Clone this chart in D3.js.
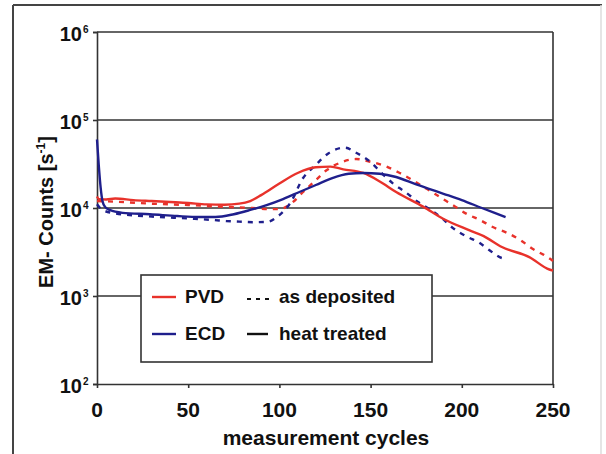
<!DOCTYPE html>
<html><head><meta charset="utf-8">
<script src="https://cdn.jsdelivr.net/npm/d3@7"></script>
<style>
body{margin:0;background:#fff;}
svg{display:block;font-family:"Liberation Sans",Arial,sans-serif;font-weight:bold;}
</style></head>
<body>
<svg id="c" width="606" height="454"></svg>
<script>
// ---- data ----
const xTicks = [0, 50, 100, 150, 200, 250];
const yTickExps = [2, 3, 4, 5, 6];

const pvdHeat = [[0,13500],[1,12600],[5,12500],[10,12800],[20,12300],[30,12000],[40,11700],[50,11400],[60,11000],[70,10900],[78,11200],[84,12000],[90,14000],[100,19000],[110,25000],[120,29000],[128,29500],[135,27500],[146,25000],[155,20000],[164,15200],[179,10300],[190,7500],[204,5600],[212,4800],[222,3600],[237,2770],[248,2000],[250,1950]];
const pvdDep = [[0,12000],[10,11800],[30,11200],[50,10800],[70,10300],[85,10000],[95,9700],[100,9700],[107,11500],[113,15200],[120,20800],[126,27000],[133,32500],[142,36000],[150,33500],[158,30000],[166,25000],[181,16400],[188,13300],[195,10800],[203,8500],[210,7300],[217,6080],[225,5200],[232,4330],[239,3420],[246,2850],[250,2500]];
const ecdHeat = [[0,60000],[1,30000],[2,17000],[3,12000],[4.4,10300],[7,9500],[14,8800],[29,8500],[44,8100],[56,7900],[65,7900],[75,8500],[84,9500],[93,10800],[102,12650],[111,15200],[120,18250],[129,21900],[138,24500],[146,25000],[155,24500],[164,22500],[175,18500],[182,16500],[190,14500],[200,12300],[211,10000],[218,8800],[224,7900]];
const ecdDep = [[0,11000],[3,9500],[10,8700],[30,8000],[50,7600],[64,7300],[71,7100],[78,7000],[86,6900],[93,6950],[100,8300],[106,11400],[113,21900],[120,31000],[127,42000],[136,48500],[142,42500],[150,33300],[156,25000],[162,19200],[169,15200],[176,11700],[183,9500],[189,7700],[195,5950],[203,4700],[209,4100],[215,3330],[222,2700],[224,2650]];

const series = [
  {data: pvdDep, color: "#e8322b", dash: "5,6"},
  {data: ecdDep, color: "#1f1f8c", dash: "5,6"},
  {data: pvdHeat, color: "#e8322b", dash: null},
  {data: ecdHeat, color: "#1f1f8c", dash: null}
];

// ---- layout ----
const svg = d3.select("#c");
const L = 97, R = 553, T = 32, B = 384;
const x = d3.scaleLinear().domain([0, 250]).range([L, R]);
const y = d3.scaleLog().domain([100, 1e6]).range([B, T]);

// outer frame
svg.append("line").attr("x1",13).attr("x2",13).attr("y1",5).attr("y2",454).attr("stroke","#444").attr("stroke-width",2);
svg.append("line").attr("x1",13).attr("x2",602).attr("y1",5).attr("y2",5).attr("stroke","#444").attr("stroke-width",2);
svg.append("line").attr("x1",601).attr("x2",601).attr("y1",5).attr("y2",454).attr("stroke","#ddd").attr("stroke-width",1.5);

// gridlines
const gridVals = yTickExps.filter(e => e > 2).map(e => Math.pow(10, e));
svg.append("g").selectAll("line").data(gridVals).join("line")
  .attr("x1", L).attr("x2", R).attr("y1", d => y(d)).attr("y2", d => y(d))
  .attr("stroke", "#333").attr("stroke-width", 1.6);
// right border
svg.append("line").attr("x1",R).attr("x2",R).attr("y1",T).attr("y2",B).attr("stroke","#333").attr("stroke-width",1.6);

// axes
const yAxis = d3.axisLeft(y).tickValues(yTickExps.map(e => Math.pow(10, e))).tickSize(4).tickFormat("");
const gy = svg.append("g").attr("transform", `translate(${L},0)`).call(yAxis);
gy.select(".domain").attr("stroke","#333").attr("stroke-width",1.6);
gy.selectAll(".tick line").attr("stroke","#333").attr("stroke-width",1.6);

const xAxis = d3.axisBottom(x).tickValues(xTicks).tickSize(4).tickSizeOuter(0).tickFormat("");
const gx = svg.append("g").attr("transform", `translate(0,${B})`).call(xAxis);
gx.select(".domain").attr("stroke","#333").attr("stroke-width",1.6);
gx.selectAll(".tick line").attr("stroke","#333").attr("stroke-width",1.6);

// x tick labels
svg.append("g").selectAll("text").data(xTicks).join("text")
  .attr("x", d => x(d)).attr("y", 417).attr("text-anchor","middle")
  .attr("font-size", 21).attr("fill","#111").text(d => d);

// y tick labels
const yl = svg.append("g").selectAll("g").data(yTickExps).join("g");
yl.append("text").attr("x", 82).attr("y", d => y(Math.pow(10,d)) + 8.5).attr("text-anchor","end")
  .attr("font-size", 20).attr("fill","#111").text("10");
yl.append("text").attr("x", 83).attr("y", d => y(Math.pow(10,d)) + 1).attr("font-size", 10).attr("fill","#111").text(d => d);

// axis titles
svg.append("text").attr("x", (L+R)/2 + 1).attr("y", 445).attr("text-anchor","middle")
  .attr("font-size", 21).attr("fill","#111").text("measurement cycles");
const yt = svg.append("text").attr("transform","translate(53,212) rotate(-90)").attr("text-anchor","middle")
  .attr("font-size", 20).attr("fill","#111");
yt.append("tspan").text("EM- Counts [s");
yt.append("tspan").attr("font-size", 12).attr("dy", -8).text("-1");
yt.append("tspan").attr("dy", 8).text("]");

// data lines
const line = d3.line().x(d => x(d[0])).y(d => y(d[1])).curve(d3.curveMonotoneX);
svg.append("g").selectAll("path").data(series).join("path")
  .attr("d", d => line(d.data)).attr("fill","none")
  .attr("stroke", d => d.color).attr("stroke-width", 2.4)
  .attr("stroke-dasharray", d => d.dash);

// legend
const lg = svg.append("g");
lg.append("rect").attr("x",141).attr("y",275).attr("width",291).attr("height",87)
  .attr("fill","#fff").attr("stroke","#333").attr("stroke-width",1.6);
const legItems = [
  {label:"PVD", color:"#e8322b", yy:303},
  {label:"ECD", color:"#1f1f8c", yy:340}
];
legItems.forEach(it => {
  lg.append("line").attr("x1",152).attr("x2",176).attr("y1",it.yy-6).attr("y2",it.yy-6)
    .attr("stroke", it.color).attr("stroke-width",2.4);
  lg.append("text").attr("x",185).attr("y",it.yy).attr("font-size",19).attr("fill","#111").text(it.label);
});
lg.append("line").attr("x1",247).attr("x2",270).attr("y1",299).attr("y2",299)
  .attr("stroke","#111").attr("stroke-width",2.2).attr("stroke-dasharray","4,5");
lg.append("text").attr("x",279).attr("y",303).attr("font-size",19).attr("fill","#111").text("as deposited");
lg.append("line").attr("x1",247).attr("x2",268).attr("y1",334).attr("y2",334)
  .attr("stroke","#111").attr("stroke-width",2.4);
lg.append("text").attr("x",279).attr("y",340).attr("font-size",19).attr("fill","#111").text("heat treated");
</script>
</body></html>
